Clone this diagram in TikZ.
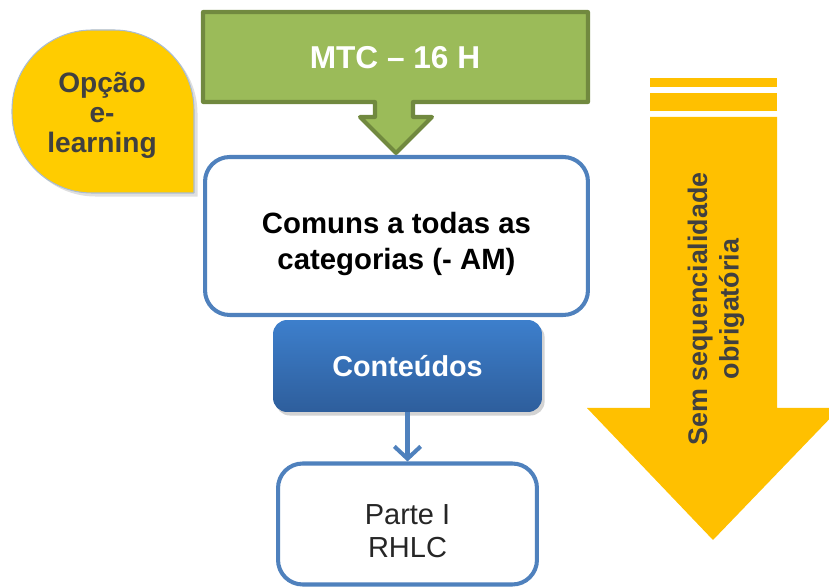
\documentclass[tikz,border=0pt]{standalone}
\usepackage{fontspec}
\setmainfont{Liberation Sans}
\usetikzlibrary{arrows.meta,shadows}

\definecolor{mtcgreen}{HTML}{9BBB59}
\definecolor{mtcgreendark}{HTML}{71893F}
\definecolor{boxblue}{HTML}{4F81BD}
\definecolor{conttop}{HTML}{3D7FCC}
\definecolor{contbot}{HTML}{2E5E9C}
\definecolor{arrowyellow}{HTML}{FFC000}
\definecolor{bubbleyellow}{HTML}{FFCC00}
\definecolor{bubbleline}{HTML}{A9BCD3}
\definecolor{darktext}{HTML}{404040}

\tikzset{
    whitebox/.style={draw=boxblue, line width=2.3pt, rounded corners=14pt, fill=white,
        align=center, inner sep=0pt},
    bluebox/.style={draw=none, rounded corners=8pt, top color=conttop, bottom color=contbot,
        drop shadow={opacity=0.35, shadow xshift=1.5pt, shadow yshift=-2pt},
        text=white, inner sep=0pt, font=\fontsize{16.4}{20}\selectfont\bfseries},
    flowarrow/.style={draw=boxblue, line width=2.3pt, -{Straight Barb[length=7pt,width=15pt]}},
}

\begin{document}
\begin{tikzpicture}[x=0.02cm, y=-0.02cm]
    % Frame
    \useasboundingbox (0,0) rectangle (829,587);
    \clip (0,0) rectangle (829,587);

    % Yellow side arrow
    \fill[arrowyellow] (650,78) rectangle (777,87);
    \fill[arrowyellow] (650,93) rectangle (777,111);
    \fill[arrowyellow] (650,117) -- (777,117) -- (777,408) -- (840,408)
        -- (713,540) -- (587,408) -- (650,408) -- cycle;
    \node[rotate=90, align=center, text=darktext,
          font=\fontsize{15.3}{18}\selectfont\bfseries] (seq) at (716,309)
        {Sem sequencialidade\\obrigatória};

    % Bubble
    \filldraw[fill=bubbleyellow, draw=bubbleline, line width=0.6pt, rounded corners=1.6cm,
              drop shadow={opacity=0.25, shadow xshift=2pt, shadow yshift=-2pt}]
        (194,193) -- (12,193) -- (12,30) -- (194,30) -- (194,193);
    \node[align=center, text=darktext, font=\fontsize{16}{17}\selectfont\bfseries]
        (elearn) at (102,115) {Opção\\e-\\learning};

    % Green callout
    \filldraw[fill=mtcgreen, draw=mtcgreendark, line width=2.3pt, line join=round]
        (203,12) -- (588,12) -- (588,102) -- (413,102) -- (413,117) -- (432,117)
        -- (396,153) -- (360,117) -- (375,117) -- (375,102) -- (203,102) -- cycle;
    \node[text=white, font=\fontsize{18}{22}\selectfont\bfseries] (mtc) at (395,58)
        {MTC -- 16 H};

    % Boxes
    \node[whitebox, minimum width=7.66cm, minimum height=3.16cm] (comuns) at (396.5,236) {};
    \node[align=center, font=\fontsize{16.7}{20.5}\selectfont\bfseries] (comunstxt)
        at (396.5,244) {Comuns a todas as\\categorias (- AM)};
    \node[bluebox, minimum width=5.38cm, minimum height=1.84cm] (cont) at (407.5,366)
        {Conteúdos};
    \node[whitebox, minimum width=5.18cm, minimum height=2.42cm] (parte) at (407.5,524) {};
    \node[align=center, font=\fontsize{16.5}{19}\selectfont, text=black!85] (partetxt)
        at (407.5,531) {Parte I\\RHLC};

    % Connector
    \draw[flowarrow] (cont) -- (parte);
\end{tikzpicture}
\end{document}
